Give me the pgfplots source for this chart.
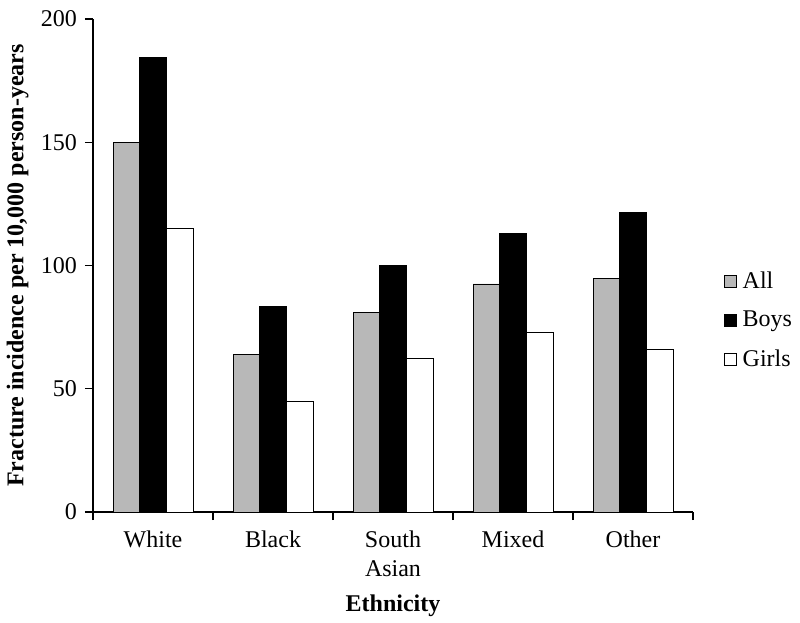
\documentclass[border=0pt]{standalone}
\usepackage{fontspec}
\setmainfont{Liberation Serif}
\usepackage{pgfplots}
\pgfplotsset{compat=1.18}
\definecolor{allgray}{RGB}{184,184,184}
\pgfplotsset{mybar/.style={legend image code/.code={\draw[#1,line width=0.9pt] (0pt,-6pt) rectangle (12pt,6pt); \path (16pt,0pt);}}}
\begin{document}
\fontsize{24}{28}\selectfont
\begin{tikzpicture}
\begin{axis}[
 at={(0,0)}, anchor=south west,
 scale only axis, width=600pt, height=493pt,
 xmin=-0.5, xmax=4.5, ymin=0, ymax=200,
 axis x line*=bottom, axis y line*=left,
 axis line style={line width=1.2pt, -},
 ybar=0pt, bar width=0.222,
 ytick={0,50,...,200},
 xtick={0,1,2,3,4},
 xticklabels={White,Black,South\\Asian,Mixed,Other},
 minor xtick={-0.5,0.5,1.5,2.5,3.5,4.5},
 major x tick style={draw=none},
 minor x tick style={line width=1.2pt, black},
 major y tick style={line width=1.2pt, black},
 tick align=outside,
 major tick length=8pt, minor tick length=8pt,
 /pgf/number format/assume math mode=true,
 tick label style={font=\fontsize{24}{30}\selectfont},
 xticklabel style={align=center, font=\fontsize{24}{29}\selectfont, yshift=-3pt},
 xlabel={\bfseries Ethnicity},
 ylabel={\bfseries Fracture incidence per 10,000 person-years},
 label style={font=\fontsize{24}{28}\selectfont},
 xlabel style={yshift=-2pt},
 ylabel style={yshift=-4pt},
 legend style={at={(1.051,0.388)}, anchor=west, draw=none, fill=none, inner sep=0pt,
   row sep=15pt, font=\fontsize{24}{28}\selectfont, legend cell align=left},
]
\addplot[fill=allgray, draw=black, line width=0.9pt, mybar] coordinates {(0,149.9) (1,63.9) (2,81.1) (3,92.5) (4,94.9)};
\addplot[fill=black, draw=black, line width=0.9pt, mybar] coordinates {(0,184.4) (1,83.5) (2,99.9) (3,112.9) (4,121.6)};
\addplot[fill=white, draw=black, line width=0.9pt, mybar] coordinates {(0,115.2) (1,44.8) (2,62.3) (3,72.9) (4,65.9)};
\legend{All,Boys,Girls}
\end{axis}
\pgfresetboundingbox
\path[use as bounding box] (-93pt,-110pt) rectangle (707pt,512pt);
\end{tikzpicture}
\end{document}
